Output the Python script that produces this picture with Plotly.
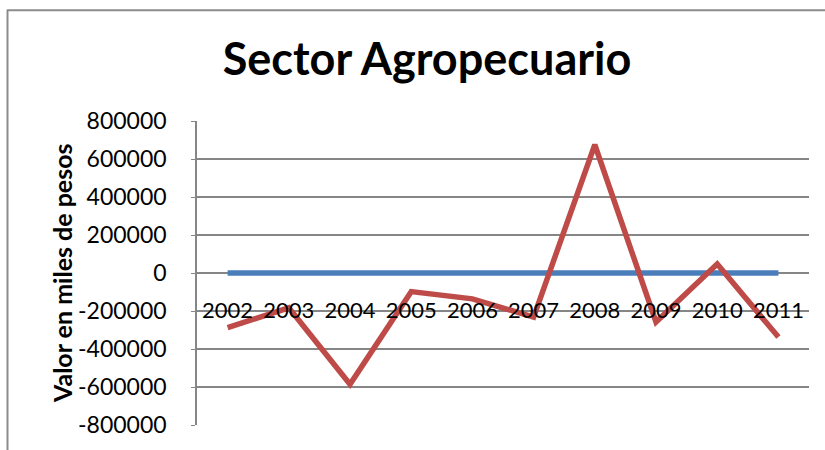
import plotly.graph_objects as go

# Annual values (miles de pesos)
years = ["2002", "2003", "2004", "2005", "2006", "2007", "2008", "2009", "2010", "2011"]
serie_base = [0, 0, 0, 0, 0, 0, 0, 0, 0, 0]
serie_agro = [-288000, -183000, -586000, -98000, -136000, -232000, 675000, -258000, 47000, -337000]
y_ticks = [800000, 600000, 400000, 200000, 0, -200000, -400000, -600000, -800000]

FONT = "Lato"
GRID = "#868686"

fig = go.Figure()
fig.add_trace(go.Scatter(
    x=years, y=serie_base, mode="lines",
    line=dict(color="#4A7EBB", width=5.5),
    showlegend=False, hoverinfo="skip",
))
fig.add_trace(go.Scatter(
    x=years, y=serie_agro, mode="lines",
    line=dict(color="#BE4B48", width=5.5),
    showlegend=False,
))

fig.update_layout(
    width=825, height=450,
    margin=dict(l=197, r=16, t=121, b=23),
    paper_bgcolor="white", plot_bgcolor="white",
    font=dict(family=FONT, color="black"),
    title=dict(
        text="<b>Sector Agropecuario</b>",
        x=427 / 825, xanchor="center",
        y=1 - 59 / 450, yanchor="middle",
        font=dict(family=FONT, size=45, color="black"),
    ),
    xaxis=dict(
        type="category",
        anchor="free", position=0.5,
        showgrid=False, showline=False, zeroline=False,
        ticks="", ticklabelstandoff=22,
        tickfont=dict(family=FONT, size=22, color="black"),
        range=[-0.5, 9.5],
    ),
    yaxis=dict(
        range=[-800000, 800000],
        tickvals=y_ticks,
        ticktext=[str(v) for v in y_ticks],
        showgrid=True, gridcolor=GRID, gridwidth=1.5,
        zeroline=False,
        showline=True, linecolor=GRID, linewidth=1.5,
        ticks="outside", ticklen=4, tickcolor=GRID,
        ticklabelstandoff=20,
        tickfont=dict(family=FONT, size=23, color="black"),
    ),
    annotations=[dict(
        text="<b>Valor en miles de pesos</b>",
        xref="paper", yref="paper",
        x=(62 - 197) / 612, y=0.5,
        xanchor="center", yanchor="middle",
        textangle=-90, showarrow=False,
        font=dict(family=FONT, size=25, color="black"),
    )],
    shapes=[
        # chart frame (top and left edges)
        dict(type="line", xref="paper", yref="paper",
             x0=(7 - 197) / 612, x1=(825 - 197) / 612,
             y0=1 + (121 - 9.5) / 306, y1=1 + (121 - 9.5) / 306,
             line=dict(color="#8C8C8C", width=2)),
        dict(type="line", xref="paper", yref="paper",
             x0=(7.5 - 197) / 612, x1=(7.5 - 197) / 612,
             y0=1 + (121 - 9) / 306, y1=-(450 - 427) / 306 - 0.01,
             line=dict(color="#8C8C8C", width=2)),
    ],
)

fig.write_html("out.html")
